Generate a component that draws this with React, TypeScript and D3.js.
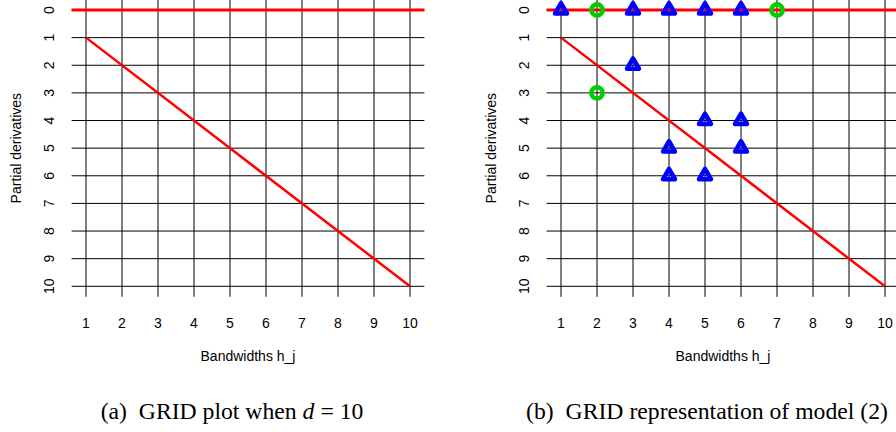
import React from 'react';
import * as d3 from 'd3';

// axis ticks
const bandwidths = [1, 2, 3, 4, 5, 6, 7, 8, 9, 10];
const derivatives = [0, 1, 2, 3, 4, 5, 6, 7, 8, 9, 10];

// red reference lines
const diagonalX = [1, 10];
const diagonalY = [1, 10];

// model (2): blue triangles and green circles
const triX = [1, 3, 4, 5, 6, 3, 5, 6, 4, 6, 4, 5];
const triY = [0, 0, 0, 0, 0, 2, 4, 4, 5, 5, 6, 6];
const circX = [2, 7, 2];
const circY = [0, 0, 3];

const W = 896;
const H = 432;
const sans = '"Liberation Sans", Arial, sans-serif';
const serif = '"Liberation Serif", "Times New Roman", serif';

type PanelProps = { offset: number; markers: boolean; caption: React.ReactNode };

const Panel = ({ offset, markers, caption }: PanelProps) => {
  const x = d3.scaleLinear().domain([0.6, 10.4]).range([71.6 + offset, 424.4 + offset]);
  const y = d3.scaleLinear().domain([-0.38, 10.38]).range([-0.5, 296.8]);

  const [x0, x1] = x.range();
  const [y0, y1] = y.range();

  const diag = d3.line<number>()
    .x((_, i) => x(diagonalX[i]))
    .y((_, i) => y(diagonalY[i]));

  const tri = d3.symbol(d3.symbolTriangle, 62)();
  const cx = (x0 + x1) / 2;
  const cy = (y(0) + y(10)) / 2;

  return (
    <g>
      {/* grid */}
      {bandwidths.map(b => (
        <line key={'v' + b} x1={x(b)} x2={x(b)} y1={y0} y2={y1} stroke="#000" strokeWidth={1} />
      ))}
      {derivatives.map(d => (
        <line key={'h' + d} x1={x0} x2={x1} y1={y(d)} y2={y(d)} stroke="#000" strokeWidth={1} />
      ))}

      {/* red lines */}
      <line x1={x0} x2={x1} y1={y(0)} y2={y(0)} stroke="#ff0000" strokeWidth={3} />
      <path d={diag(diagonalX) || ''} stroke="#ff0000" strokeWidth={2.5} fill="none" />

      {markers && triX.map((tx, i) => (
        <path key={'t' + i} d={tri || ''} transform={`translate(${x(tx)},${y(triY[i])})`}
          fill="none" stroke="#0000ff" strokeWidth={4.5} strokeLinejoin="round" />
      ))}
      {markers && circX.map((c, i) => (
        <circle key={'c' + i} cx={x(c)} cy={y(circY[i])} r={5.6}
          fill="none" stroke="#00cd00" strokeWidth={4.6} />
      ))}

      {/* tick labels */}
      {bandwidths.map(b => (
        <text key={'xl' + b} x={x(b)} y={328} textAnchor="middle" fontFamily={sans} fontSize={14}>{b}</text>
      ))}
      {derivatives.map(d => (
        <text key={'yl' + d} transform={`translate(${49 + offset},${y(d)}) rotate(-90)`} dy="0.35em"
          textAnchor="middle" fontFamily={sans} fontSize={14}>{d}</text>
      ))}

      {/* axis titles */}
      <text x={cx} y={361} textAnchor="middle" fontFamily={sans} fontSize={14}>Bandwidths h_j</text>
      <text transform={`translate(${16 + offset},${cy}) rotate(-90)`} dy="0.35em"
        textAnchor="middle" fontFamily={sans} fontSize={14}>Partial derivatives</text>

      {/* caption */}
      <text x={232 + offset} y={419} textAnchor="middle" fontFamily={serif} fontSize={23.7}>{caption}</text>
    </g>
  );
};

export default function App() {
  return (
    <svg width={W} height={H} style={{ position: 'absolute', left: 0, top: 0, background: '#fff' }}>
      <rect width={W} height={H} fill="#fff" />
      <Panel offset={0} markers={false}
        caption={<>(a)&#160; GRID plot when <tspan fontStyle="italic">d</tspan>&#160;=&#160;10</>} />
      <Panel offset={475} markers={true}
        caption={<>(b)&#160; GRID representation of model (2)</>} />
    </svg>
  );
}
